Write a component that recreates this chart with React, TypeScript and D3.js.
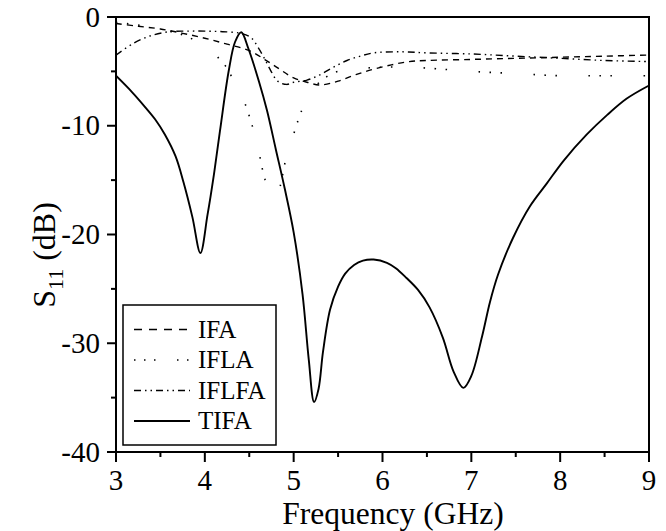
import React from "react";
import * as d3 from "d3";

const xTicks = [3, 4, 5, 6, 7, 8, 9];
const xMinor = [3.5, 4.5, 5.5, 6.5, 7.5, 8.5];
const yTicks = [0, -10, -20, -30, -40];
const yMinor = [-5, -15, -25, -35];

const tifaF = [3.0, 3.18, 3.33, 3.44, 3.55, 3.67, 3.76, 3.86, 3.95, 4.03, 4.1, 4.17, 4.27, 4.34, 4.41, 4.49, 4.61, 4.7, 4.8, 4.9, 5.0, 5.1, 5.17, 5.23, 5.28, 5.33, 5.41, 5.5, 5.58, 5.68, 5.78, 5.9, 6.05, 6.15, 6.27, 6.4, 6.53, 6.68, 6.8, 6.91, 7.0, 7.12, 7.21, 7.3, 7.47, 7.66, 7.85, 8.04, 8.3, 8.53, 8.75, 9.0];
const tifaS = [-5.4, -6.9, -8.3, -9.4, -10.8, -12.8, -15.2, -18.4, -21.7, -18.2, -14.6, -10.5, -4.9, -2.3, -1.4, -2.9, -5.95, -8.6, -12.2, -15.8, -19.8, -25.5, -31.5, -35.4, -34.2, -30.8, -26.9, -24.8, -23.6, -22.8, -22.4, -22.3, -22.6, -23.1, -24.0, -25.1, -26.7, -29.5, -32.6, -34.1, -33.0, -29.4, -26.2, -23.7, -20.3, -17.4, -15.3, -13.2, -10.8, -9.0, -7.5, -6.3];

const ifaF = [3.0, 3.25, 3.5, 3.75, 4.0, 4.25, 4.5, 4.75, 5.0, 5.15, 5.3, 5.5, 5.7, 5.9, 6.1, 6.3, 6.5, 7.0, 7.5, 8.0, 8.5, 9.0];
const ifaS = [-0.6, -0.85, -1.1, -1.5, -1.95, -2.5, -3.1, -4.3, -5.6, -6.0, -6.25, -5.9, -5.3, -4.8, -4.4, -4.1, -4.0, -3.9, -3.8, -3.7, -3.6, -3.5];

const iflaF = [3.0, 3.3, 3.6, 3.8, 4.0, 4.1, 4.17, 4.25, 4.32, 4.42, 4.53, 4.61, 4.68, 4.75, 4.8, 4.85, 4.9, 4.96, 5.05, 5.15, 5.26, 5.35, 5.5, 5.8, 6.2, 6.5, 7.0, 7.5, 8.0, 8.5, 9.0];
const iflaS = [-0.5, -0.8, -1.3, -1.8, -2.7, -3.2, -3.95, -4.7, -5.8, -7.3, -9.9, -12.5, -15.0, -16.2, -16.5, -15.5, -13.5, -11.9, -9.5, -7.5, -6.25, -5.6, -5.0, -4.7, -4.6, -4.7, -5.0, -5.2, -5.4, -5.4, -5.4];

const iflfaF = [3.0, 3.2, 3.4, 3.6, 3.8, 4.0, 4.2, 4.4, 4.52, 4.6, 4.67, 4.74, 4.82, 4.92, 5.0, 5.15, 5.3, 5.45, 5.6, 5.75, 5.9, 6.2, 6.5, 7.0, 7.5, 8.0, 8.5, 9.0];
const iflfaS = [-3.5, -2.4, -1.7, -1.35, -1.3, -1.3, -1.35, -1.5, -1.9, -2.8, -3.8, -4.9, -5.9, -6.2, -6.0, -5.8, -5.3, -4.6, -4.0, -3.6, -3.3, -3.2, -3.3, -3.4, -3.6, -3.8, -4.0, -4.1];

const legendNames = ["IFA", "IFLA", "IFLFA", "TIFA"];

const W = 666;
const H = 531;
const left = 116, right = 649, top = 17, bottom = 452;

const x = d3.scaleLinear().domain([3, 9]).range([left, right]);
const y = d3.scaleLinear().domain([0, -40]).range([top, bottom]);

const series = [
  { name: "IFA", f: ifaF, s: ifaS, dash: "6,5", width: 1.4 },
  { name: "IFLA", f: iflaF, s: iflaS, dash: "1.5,9.5,1.5,9.5,1.5,31.5", width: 1.6 },
  { name: "IFLFA", f: iflfaF, s: iflfaS, dash: "7,4,1.5,4,1.5,4", width: 1.4 },
  { name: "TIFA", f: tifaF, s: tifaS, dash: "", width: 1.9 },
];

const legendDash: Record<string, string> = {
  IFA: "8,7",
  IFLA: "1.5,8.5,1.5,8.5,1.5,21.5",
  IFLFA: "7,4,1.5,4,1.5,4",
  TIFA: "",
};

const FONT = "Liberation Serif";

export default function App() {
  const line = d3
    .line<[number, number]>()
    .x((d) => x(d[0]))
    .y((d) => y(d[1]))
    .curve(d3.curveCatmullRom.alpha(0.5));

  return (
    <svg width={W} height={H} style={{ position: "absolute", left: 0, top: 0, background: "#fff" }}>
      <defs>
        <clipPath id="plotclip">
          <rect x={left} y={top} width={right - left} height={bottom - top} />
        </clipPath>
      </defs>
      <g clipPath="url(#plotclip)">
        {series.map((s) => (
          <path
            key={s.name}
            d={line(s.f.map((f, i) => [f, s.s[i]] as [number, number])) || ""}
            fill="none"
            stroke="#000"
            strokeWidth={s.width}
            strokeDasharray={s.dash || undefined}
          />
        ))}
      </g>
      <rect x={left} y={top} width={right - left} height={bottom - top} fill="none" stroke="#000" strokeWidth={2} />
      {xTicks.map((t) => (
        <g key={"xt" + t}>
          <line x1={x(t)} x2={x(t)} y1={bottom} y2={bottom + 10} stroke="#000" strokeWidth={2} />
          <text x={x(t)} y={490} fontSize={29} fontFamily={FONT} textAnchor="middle" fill="#000">
            {t}
          </text>
        </g>
      ))}
      {xMinor.map((t) => (
        <line key={"xm" + t} x1={x(t)} x2={x(t)} y1={bottom} y2={bottom + 5} stroke="#000" strokeWidth={2} />
      ))}
      {yTicks.map((t) => (
        <g key={"yt" + t}>
          <line x1={left - 9} x2={left} y1={y(t)} y2={y(t)} stroke="#000" strokeWidth={2} />
          <text x={100} y={y(t) + 9.5} fontSize={29} fontFamily={FONT} textAnchor="end" fill="#000">
            {t}
          </text>
        </g>
      ))}
      {yMinor.map((t) => (
        <line key={"ym" + t} x1={left - 5} x2={left} y1={y(t)} y2={y(t)} stroke="#000" strokeWidth={2} />
      ))}
      <text x={393} y={524} fontSize={31.5} fontFamily={FONT} textAnchor="middle" fill="#000">
        Frequency (GHz)
      </text>
      <text transform="translate(55,255) rotate(-90)" fontSize={32} fontFamily={FONT} textAnchor="middle" fill="#000">
        S<tspan fontSize={22} fontFamily={FONT} dy={8}>11</tspan>
        <tspan fontFamily={FONT} dy={-8}> (dB)</tspan>
      </text>
      <rect x={123} y={305} width={153} height={140} fill="#fff" stroke="#000" strokeWidth={1.5} />
      {legendNames.map((n, i) => {
        const ly = 329.5 + i * 30.5;
        return (
          <g key={"lg" + n}>
            <line x1={134} x2={190} y1={ly} y2={ly} stroke="#000" strokeWidth={n === "TIFA" ? 1.9 : 1.4} strokeDasharray={legendDash[n] || undefined} />
            <text x={198} y={ly + 8} fontSize={25} fontFamily={FONT} fill="#000">
              {n}
            </text>
          </g>
        );
      })}
    </svg>
  );
}
